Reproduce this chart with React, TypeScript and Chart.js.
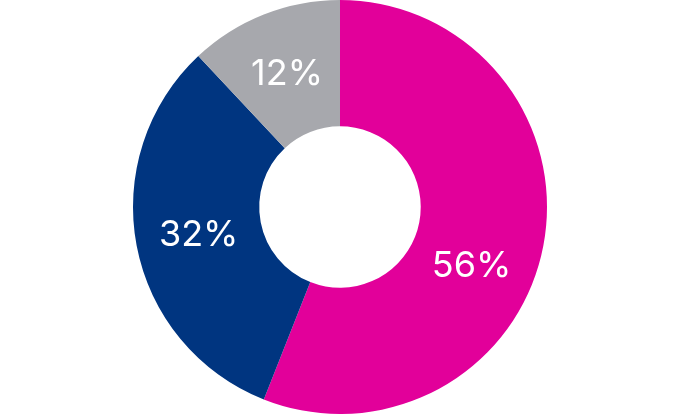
import React, { useEffect, useRef } from "react";
import { Chart, registerables } from "chart.js";

Chart.register(...registerables);

const categories = ["A", "B", "C"];
const values = [56, 32, 12];
const valueLabels = ["56%", "32%", "12%"];
const colors = ["#E2009A", "#003580", "#A7A8AD"];
const labelFractions = [0.565, 0.5, 0.5];

const labelPlugin = {
  id: "arcLabels",
  afterDatasetsDraw(chart: any) {
    const ctx = chart.ctx;
    const meta = chart.getDatasetMeta(0);
    ctx.save();
    ctx.fillStyle = "#FFFFFF";
    ctx.font = "400 36px Inter";
    ctx.textAlign = "center";
    ctx.textBaseline = "middle";
    meta.data.forEach((arc: any, i: number) => {
      const p = arc.getProps(["x", "y", "startAngle", "endAngle", "innerRadius", "outerRadius"], true);
      const f = labelFractions[i] ?? 0.5;
      const a = p.startAngle + (p.endAngle - p.startAngle) * f;
      const r = (p.innerRadius + p.outerRadius) / 2;
      ctx.fillText(valueLabels[i], p.x + Math.cos(a) * r, p.y + Math.sin(a) * r + 1);
    });
    ctx.restore();
  },
};

export default function App() {
  const ref = useRef<HTMLCanvasElement>(null);
  useEffect(() => {
    if (!ref.current) return;
    const chart = new Chart(ref.current, {
      type: "doughnut",
      data: {
        labels: categories,
        datasets: [
          {
            data: values,
            backgroundColor: colors,
            borderWidth: 0,
          },
        ],
      },
      options: {
        responsive: false,
        animation: false,
        cutout: "39%",
        layout: { padding: { top: 0, bottom: 2, left: 0, right: 0 } },
        plugins: {
          legend: { display: false },
          tooltip: { enabled: false },
        },
      },
      plugins: [labelPlugin],
    });
    return () => chart.destroy();
  }, []);
  return (
    <div style={{ position: "absolute", left: 0, top: 0, width: 680, height: 416 }}>
      <canvas ref={ref} width={680} height={416} style={{ width: 680, height: 416 }} />
    </div>
  );
}
